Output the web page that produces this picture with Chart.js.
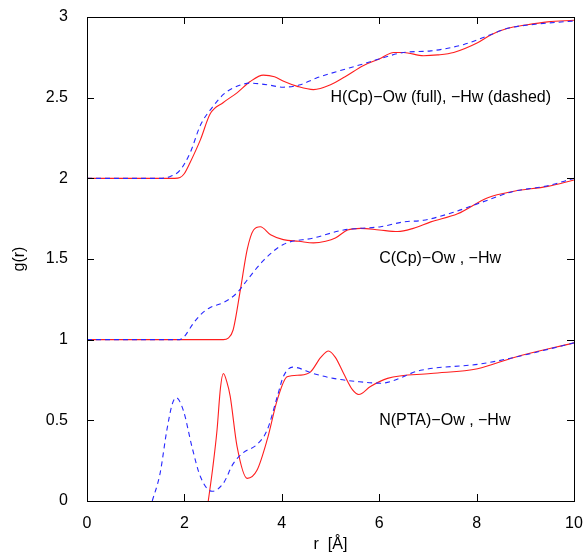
<!DOCTYPE html>
<html>
<head>
<meta charset="utf-8">
<title>g(r)</title>
<script src="https://cdn.jsdelivr.net/npm/chart.js@4.4.1/dist/chart.umd.min.js"></script>
<style>
  body { margin: 0; background: #fff; }
  canvas { display: block; }
</style>
</head>
<body>
<canvas id="grafico" width="586" height="552"></canvas>
<script>
// H(Cp)-Ow (full) and H(Cp)-Hw (dashed), shifted by +2
var rHO = [0, 1.8, 1.91, 2.0, 2.12, 2.33, 2.53, 2.80, 3.08, 3.35, 3.62, 3.85, 4.05, 4.32, 4.65, 5.0, 5.3, 5.68, 6.0, 6.3, 6.5, 6.91, 7.2, 7.53, 8.02, 8.3, 8.64, 9.0, 9.46, 10];
var gHO = [2, 2, 2.005, 2.03, 2.10, 2.24, 2.40, 2.47, 2.53, 2.60, 2.64, 2.63, 2.60, 2.57, 2.55, 2.58, 2.63, 2.70, 2.74, 2.78, 2.78, 2.76, 2.765, 2.78, 2.84, 2.89, 2.93, 2.95, 2.97, 2.98];
var rHH = [0, 1.5, 1.7, 1.91, 2.12, 2.33, 2.60, 2.8, 3.0, 3.35, 3.7, 4.03, 4.38, 4.7, 5.0, 5.68, 6.0, 6.5, 7.06, 7.74, 8.2, 8.64, 9.2, 10];
var gHH = [2, 2, 2.01, 2.05, 2.16, 2.33, 2.45, 2.52, 2.56, 2.59, 2.58, 2.565, 2.58, 2.62, 2.65, 2.71, 2.74, 2.78, 2.79, 2.83, 2.88, 2.93, 2.955, 2.975];

// C(Cp)-Ow, C(Cp)-Hw, shifted by +1
var rCO = [0, 2.8, 2.9, 3.0, 3.15, 3.29, 3.42, 3.56, 3.77, 4.03, 4.35, 4.65, 4.9, 5.1, 5.35, 5.62, 6.0, 6.38, 6.7, 7.06, 7.61, 8.23, 8.77, 9.46, 10];
var gCO = [1, 1, 1.01, 1.06, 1.31, 1.56, 1.68, 1.70, 1.65, 1.62, 1.61, 1.60, 1.61, 1.63, 1.68, 1.69, 1.68, 1.67, 1.69, 1.73, 1.78, 1.88, 1.92, 1.95, 1.99];
var rCH = [0, 1.9, 2.0, 2.18, 2.35, 2.53, 2.80, 3.08, 3.29, 3.62, 4.03, 4.65, 5.27, 5.6, 6.03, 6.5, 6.91, 7.53, 8.09, 8.77, 9.4, 10];
var gCH = [1, 1, 1.02, 1.10, 1.16, 1.20, 1.23, 1.29, 1.37, 1.49, 1.59, 1.63, 1.68, 1.69, 1.70, 1.73, 1.74, 1.79, 1.85, 1.92, 1.95, 2.0];

// N(PTA)-Ow, N(PTA)-Hw
var rNO = [2.49, 2.58, 2.67, 2.74, 2.80, 2.87, 2.94, 3.08, 3.29, 3.49, 3.70, 3.91, 4.11, 4.38, 4.59, 4.8, 4.96, 5.1, 5.27, 5.45, 5.58, 5.82, 6.17, 7.06, 8.02, 8.77, 10];
var gNO = [0, 0.2, 0.44, 0.70, 0.79, 0.74, 0.65, 0.34, 0.14, 0.19, 0.38, 0.63, 0.77, 0.78, 0.80, 0.89, 0.93, 0.89, 0.79, 0.69, 0.66, 0.71, 0.76, 0.79, 0.82, 0.89, 0.98];
var rNH = [1.34, 1.5, 1.64, 1.75, 1.83, 1.98, 2.16, 2.33, 2.57, 2.80, 3.0, 3.21, 3.49, 3.70, 3.91, 4.03, 4.22, 4.65, 5.06, 5.56, 6.03, 6.85, 8.09, 8.77, 10];
var gNH = [0, 0.17, 0.44, 0.60, 0.64, 0.56, 0.33, 0.15, 0.06, 0.11, 0.23, 0.30, 0.35, 0.44, 0.65, 0.77, 0.83, 0.79, 0.76, 0.74, 0.73, 0.81, 0.85, 0.89, 0.98];

var rotulos = ["H(Cp)\u2212Ow (full), \u2212Hw (dashed)", "C(Cp)\u2212Ow , \u2212Hw", "N(PTA)\u2212Ow , \u2212Hw"];
var rotuloX = [5, 6, 6];
var rotuloY = [2.5, 1.5, 0.5];

var xTicks = [0, 2, 4, 6, 8, 10];
var yTicks = [0, 0.5, 1, 1.5, 2, 2.5, 3];

var fonte = "'Liberation Sans', Arial, Helvetica, sans-serif";
var vermelho = 'rgb(255, 30, 30)';
var azul = 'rgb(40, 40, 255)';

function pontos(xs, ys) {
  var p = [];
  for (var i = 0; i < xs.length; i++) {
    p.push({x: xs[i], y: ys[i]});
  }
  return p;
}

function curva(xs, ys, cor, tracejado) {
  return {
    data: pontos(xs, ys),
    borderColor: cor,
    borderWidth: 1.1,
    borderDash: tracejado ? [5, 4] : [],
    pointRadius: 0,
    fill: false,
    cubicInterpolationMode: 'monotone',
    order: tracejado ? 0 : 1
  };
}

// frame, inward ticks on all sides, labels inside plot, axis titles
var moldura = {
  id: 'moldura',
  afterDraw: function(chart) {
    var c = chart.ctx;
    var a = chart.chartArea;
    var sx = chart.scales.x, sy = chart.scales.y;
    var t = 7;
    var L = Math.round(a.left), R = Math.round(a.right);
    var T = Math.round(a.top), B = Math.round(a.bottom);
    c.save();
    c.fillStyle = '#000';
    // box
    c.fillRect(L, T, R - L + 1, 1);
    c.fillRect(L, B, R - L + 1, 1);
    c.fillRect(L, T, 1, B - T + 1);
    c.fillRect(R, T, 1, B - T + 1);
    // ticks
    for (var i = 0; i < xTicks.length; i++) {
      var px = Math.round(sx.getPixelForValue(xTicks[i]));
      c.fillRect(px, B - t, 1, t);
      c.fillRect(px, T, 1, t);
    }
    for (var j = 0; j < yTicks.length; j++) {
      var py = Math.round(sy.getPixelForValue(yTicks[j]));
      c.fillRect(L, py, t, 1);
      c.fillRect(R - t, py, t, 1);
    }

    c.font = '16px ' + fonte;
    c.textAlign = 'left';
    c.textBaseline = 'middle';
    for (var k = 0; k < rotulos.length; k++) {
      c.fillText(rotulos[k], sx.getPixelForValue(rotuloX[k]), sy.getPixelForValue(rotuloY[k]));
    }

    c.textAlign = 'center';
    c.fillText('r  [\u00c5]', (a.left + a.right) / 2, 545);
    c.translate(20, (a.top + a.bottom) / 2);
    c.rotate(-Math.PI / 2);
    c.fillText('g(r)', 0, 0);
    c.restore();
  }
};

var el = document.getElementById('grafico');
var grafico = new Chart(el, {
  type: 'line',
  data: {
    datasets: [
      curva(rHO, gHO, vermelho, false),
      curva(rHH, gHH, azul, true),
      curva(rCO, gCO, vermelho, false),
      curva(rCH, gCH, azul, true),
      curva(rNO, gNO, vermelho, false),
      curva(rNH, gNH, azul, true)
    ]
  },
  options: {
    responsive: false,
    animation: false,
    devicePixelRatio: 1,
    layout: { padding: { left: 0, right: 12, top: 17, bottom: 0 } },
    plugins: { legend: { display: false }, tooltip: { enabled: false } },
    scales: {
      x: {
        type: 'linear',
        min: 0,
        max: 10,
        afterFit: function(s) { s.height = 51; s.paddingLeft = 0; s.paddingRight = 0; },
        grid: { display: false },
        border: { display: false },
        ticks: { stepSize: 2, padding: 5, color: '#000', font: { size: 16, family: fonte }, maxRotation: 0,
          callback: function(v) { return String(v); } }
      },
      y: {
        type: 'linear',
        min: 0,
        max: 3,
        afterFit: function(s) { s.width = 87; s.paddingTop = 0; s.paddingBottom = 0; },
        grid: { display: false },
        border: { display: false },
        ticks: { stepSize: 0.5, padding: 11, color: '#000', font: { size: 16, family: fonte },
          callback: function(v) { return String(v); } }
      }
    }
  },
  plugins: [moldura]
});
</script>
</body>
</html>
